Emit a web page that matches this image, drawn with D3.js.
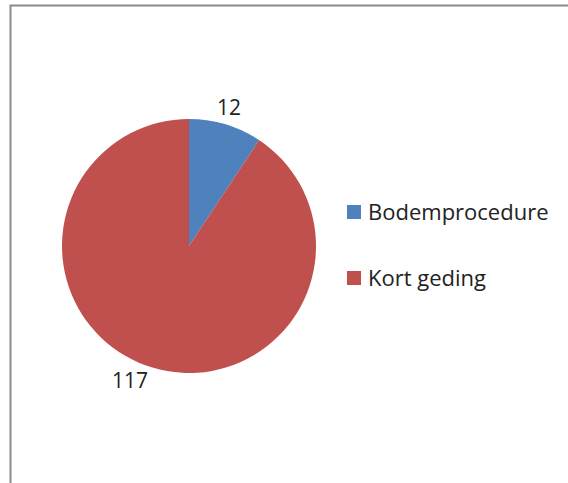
<!DOCTYPE html>
<html>
<head>
<meta charset="utf-8">
<script src="https://cdn.jsdelivr.net/npm/d3@7"></script>
<style>
  body { margin: 0; background: #fff; }
  svg { display: block; }
</style>
</head>
<body>
<script>
const categories = ['Bodemprocedure', 'Kort geding'];
const values = [12, 117];
const colors = ['#4F81BD', '#C0504D'];

const svgWidth = 568;
const svgHeight = 483;
const font = '"Open Sans", Lato, sans-serif';

const svg = d3.select('body')
.append('svg')
.attr('width', svgWidth)
.attr('height', svgHeight)

// chart frame, runs off the right and bottom edge
svg.append('rect')
.attr('x', 10.5)
.attr('y', 5.5)
.attr('width', 600)
.attr('height', 600)
.attr('fill', '#fff')
.attr('stroke', '#8c8c8c')
.attr('stroke-width', 2)

const cx = 189, cy = 246, radius = 127;

const pie = d3.pie().sort(null).value((d) => d)
const arcs = pie(values)
const arc = d3.arc().innerRadius(0).outerRadius(radius)

const g = svg.append('g')
.attr('transform', `translate(${cx}, ${cy})`)

g.selectAll('path')
.data(arcs).enter()
.append('path')
.attr('d', arc)
.attr('fill', (d, i) => colors[i])

// data labels outside the slices
const labelPos = [[40, -131], [-59, 142]];
g.selectAll('text.val')
.data(arcs).enter()
.append('text')
.attr('class', 'val')
.attr('x', (d, i) => labelPos[i][0])
.attr('y', (d, i) => labelPos[i][1])
.attr('text-anchor', 'middle')
.attr('font-family', font)
.attr('font-size', 21)
.attr('fill', '#222')
.text((d) => d.data)

// legend
const legend = svg.append('g')
.attr('transform', 'translate(347, 205)')

const item = legend.selectAll('g')
.data(categories).enter()
.append('g')
.attr('transform', (d, i) => `translate(0, ${i * 66})`)

item.append('rect')
.attr('width', 14)
.attr('height', 14)
.attr('fill', (d, i) => colors[i])

item.append('text')
.attr('x', 21)
.attr('y', 15)
.attr('font-family', font)
.attr('font-size', 22)
.attr('fill', '#222')
.text((d) => d)
</script>
</body>
</html>
